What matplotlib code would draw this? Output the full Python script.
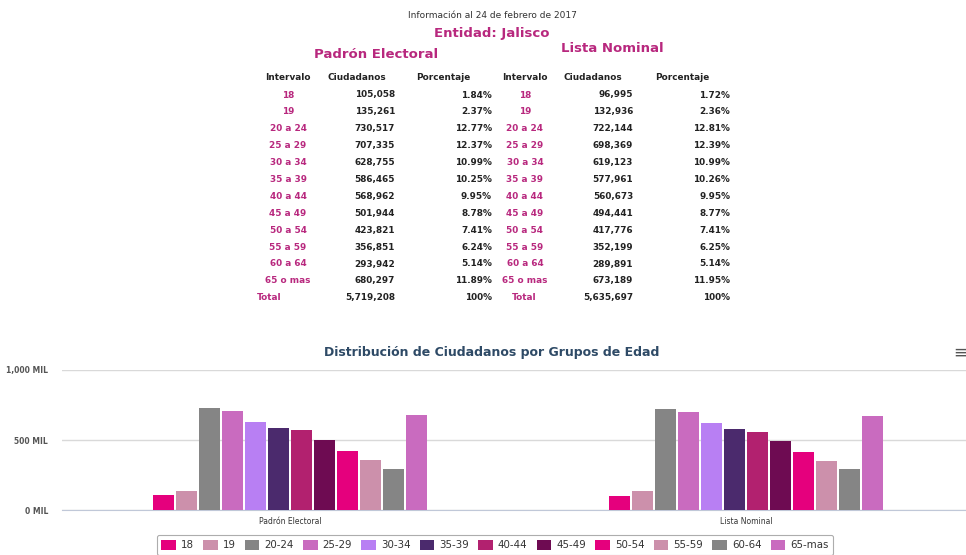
import matplotlib.pyplot as plt
import numpy as np
from matplotlib.patches import Patch

plt.rcParams['font.family'] = ['DejaVu Sans']

intervalos = ["18", "19", "20 a 24", "25 a 29", "30 a 34", "35 a 39", "40 a 44",
              "45 a 49", "50 a 54", "55 a 59", "60 a 64", "65 o mas"]
legend_labels = ["18", "19", "20-24", "25-29", "30-34", "35-39", "40-44",
                 "45-49", "50-54", "55-59", "60-64", "65-mas"]
padron = [105058, 135261, 730517, 707335, 628755, 586465, 568962,
          501944, 423821, 356851, 293942, 680297]
padron_pct = ["1.84%", "2.37%", "12.77%", "12.37%", "10.99%", "10.25%", "9.95%",
              "8.78%", "7.41%", "6.24%", "5.14%", "11.89%"]
padron_total = 5719208
lista = [96995, 132936, 722144, 698369, 619123, 577961, 560673,
         494441, 417776, 352199, 289891, 673189]
lista_pct = ["1.72%", "2.36%", "12.81%", "12.39%", "10.99%", "10.26%", "9.95%",
             "8.77%", "7.41%", "6.25%", "5.14%", "11.95%"]
lista_total = 5635697
categories = ["Padrón Electoral", "Lista Nominal"]

colors = ['#e5007d', '#cc90ab', '#858585', '#c96bbf', '#b87ff3', '#4b2a6d',
          '#b2216f', '#6e0b52', '#e5007d', '#cc90ab', '#858585', '#c96bbf']

PINK = '#b8287e'
DARK = '#222222'
W, H = 966, 555

fig = plt.figure(figsize=(9.66, 5.55), dpi=100)


def ftext(x, y, s, **kw):
    # pixel coords (top-left origin) -> figure fraction
    fig.text(x / W, 1 - y / H, s, va='center', **kw)


# ---- header / table ----
ftext(492, 16, "Información al 24 de febrero de 2017", ha='center', fontsize=6.5, color='#333333')
ftext(492, 33, "Entidad: Jalisco", ha='center', fontsize=9.5, fontweight='bold', color=PINK)
ftext(376, 54, "Padrón Electoral", ha='center', fontsize=9.5, fontweight='bold', color=PINK)
ftext(612, 49, "Lista Nominal", ha='center', fontsize=9.5, fontweight='bold', color=PINK)

hdr_y = 78
for x, s in [(288, "Intervalo"), (357, "Ciudadanos"), (443, "Porcentaje"),
             (525, "Intervalo"), (593, "Ciudadanos"), (682, "Porcentaje")]:
    ftext(x, hdr_y, s, ha='center', fontsize=6.4, fontweight='bold', color=DARK)

row0, dy = 95, 16.9
fs = 6.4
for i, lab in enumerate(intervalos):
    y = row0 + i * dy
    ftext(288, y, lab, ha='center', fontsize=fs, fontweight='bold', color=PINK)
    ftext(395, y, f"{padron[i]:,}", ha='right', fontsize=fs, fontweight='bold', color=DARK)
    ftext(492, y, padron_pct[i], ha='right', fontsize=fs, fontweight='bold', color=DARK)
    ftext(525, y, lab, ha='center', fontsize=fs, fontweight='bold', color=PINK)
    ftext(633, y, f"{lista[i]:,}", ha='right', fontsize=fs, fontweight='bold', color=DARK)
    ftext(730, y, lista_pct[i], ha='right', fontsize=fs, fontweight='bold', color=DARK)
y = row0 + len(intervalos) * dy
ftext(257, y, "Total", ha='left', fontsize=fs, fontweight='bold', color=PINK)
ftext(395, y, f"{padron_total:,}", ha='right', fontsize=fs, fontweight='bold', color=DARK)
ftext(492, y, "100%", ha='right', fontsize=fs, fontweight='bold', color=DARK)
ftext(512, y, "Total", ha='left', fontsize=fs, fontweight='bold', color=PINK)
ftext(633, y, f"{lista_total:,}", ha='right', fontsize=fs, fontweight='bold', color=DARK)
ftext(730, y, "100%", ha='right', fontsize=fs, fontweight='bold', color=DARK)

# ---- bar chart ----
ax = fig.add_axes([62 / W, 1 - 510 / H, 912 / W, 140 / H])
x = np.arange(len(categories))
slot = 0.0503
width = 0.046
handles = []
for i in range(len(legend_labels)):
    off = (i - (len(legend_labels) - 1) / 2) * slot
    ax.bar(x + off, [padron[i], lista[i]], width=width, color=colors[i], zorder=3)
    handles.append(Patch(facecolor=colors[i], label=legend_labels[i]))

ax.set_xlim(-0.5, 1.5)
ax.set_ylim(0, 1000000)
ax.set_yticks([0, 500000, 1000000])
ax.set_yticklabels(["0 MIL", "500 MIL", "1,000 MIL"])
ax.set_xticks(x)
ax.set_xticklabels(categories)
ax.grid(axis='y', color='#d9d9d9', linewidth=1, zorder=0)
for s in ['top', 'right', 'left']:
    ax.spines[s].set_visible(False)
ax.spines['bottom'].set_color('#c0c8d8')
ax.tick_params(axis='y', length=0, labelsize=5.5, labelcolor='#555555', pad=10)
ax.tick_params(axis='x', length=0, labelsize=5.5, labelcolor='#333333', pad=5)
for t in ax.get_yticklabels():
    t.set_fontweight('bold')
ax.set_title("Distribución de Ciudadanos por Grupos de Edad", fontsize=9, fontweight='bold',
             color='#2e4a66', pad=10, x=(492 - 62) / 912)
ftext(960, 353, "≡", ha='center', fontsize=12, color='#555555')

leg = fig.legend(handles=handles, loc='center', bbox_to_anchor=(495 / W, 1 - 545 / H),
                 ncol=12, fontsize=7.4, frameon=True, handlelength=1.4, handleheight=1.1,
                 handletextpad=0.5, columnspacing=0.9, borderpad=0.45, fancybox=True)
leg.get_frame().set_edgecolor('#999999')
leg.get_frame().set_linewidth(0.8)
for t in leg.get_texts():
    t.set_color('#333333')

fig.savefig("out.png", dpi=100)
